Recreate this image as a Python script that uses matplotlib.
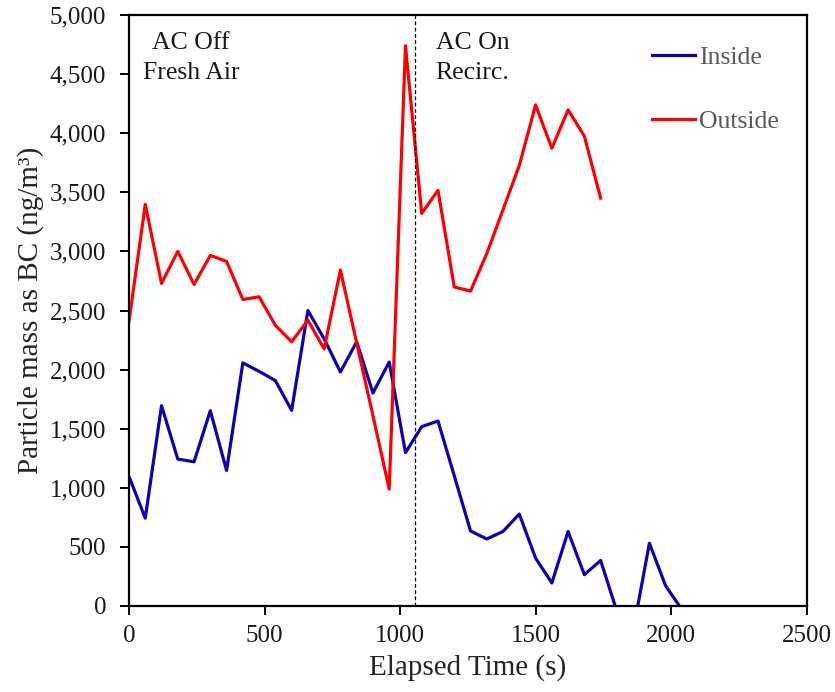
import matplotlib
matplotlib.use("Agg")
import matplotlib.pyplot as plt
import numpy as np
from matplotlib.ticker import FuncFormatter

plt.rcParams['font.family'] = ['Liberation Serif', 'DejaVu Serif']

# Data (elapsed time in s, BC mass in ng/m^3)
time_inside = [0, 60, 120, 180, 240, 300, 360, 420, 480, 540, 600, 660, 720, 780, 840,
               900, 960, 1020, 1080, 1140, 1200, 1260, 1320, 1380, 1440, 1500, 1560,
               1620, 1680, 1740, 1800, 1860, 1920, 1980, 2040]
inside = [1096, 743, 1695, 1243, 1220, 1652, 1147, 2057, 1985, 1907, 1655, 2500, 2260,
          1980, 2235, 1802, 2064, 1297, 1517, 1565, 1102, 635, 567, 631, 778, 405, 195,
          630, 265, 385, -45, -210, 531, 170, -30]

time_outside = [0, 60, 120, 180, 240, 300, 360, 420, 480, 540, 600, 660, 720, 780, 840,
                900, 960, 1020, 1080, 1140, 1200, 1260, 1320, 1380, 1440, 1500, 1560,
                1620, 1680, 1740]
outside = [2409, 3398, 2729, 3000, 2720, 2966, 2915, 2593, 2616, 2375, 2235, 2418, 2175,
           2842, 2225, 1610, 989, 4740, 3322, 3516, 2699, 2664, 2981, 3354, 3727, 4239,
           3873, 4197, 3976, 3451]

switch_time = 1055
x_ticks = [0, 500, 1000, 1500, 2000, 2500]
y_ticks = [0, 500, 1000, 1500, 2000, 2500, 3000, 3500, 4000, 4500, 5000]

fig = plt.figure(figsize=(8.35, 6.92), dpi=100)
ax = fig.add_axes([0.1545, 0.1243, 0.8115, 0.854])

ax.plot(time_inside, inside, color='#0F00B4', lw=2.3, label='Inside')
ax.plot(time_outside, outside, color='#FF0000', lw=2.3, label='Outside')
ax.axvline(switch_time, color='black', lw=0.9, ls=(0, (3, 2)))

ax.set_xlim(0, 2500)
ax.set_ylim(0, 5000)
ax.set_xticks(x_ticks)
ax.set_yticks(y_ticks)
ax.yaxis.set_major_formatter(FuncFormatter(lambda v, p: f"{int(v):,}"))
ax.tick_params(axis='both', direction='out', length=6.5, width=1.4, labelsize=18,
               colors='black')
ax.tick_params(axis='y', pad=10)
ax.tick_params(axis='x', pad=7.5)
ax.tick_params(axis='both', labelcolor='#1a1a1a')
for s in ax.spines.values():
    s.set_linewidth(1.6)

ax.set_xlabel('Elapsed Time (s)', fontsize=21, color='#262626', labelpad=5)
ax.set_ylabel('Particle mass as BC (ng/m³)', fontsize=21, color='#262626', labelpad=4)

ax.text(229, 4855, 'AC Off\nFresh Air', ha='center', va='top', fontsize=18.5,
        linespacing=1.45, color='#1a1a1a')
ax.text(1131, 4855, 'AC On\nRecirc.', ha='left', va='top', fontsize=18.5,
        linespacing=1.45, color='#1a1a1a')

leg = ax.legend(loc='upper left', bbox_to_anchor=(0.7565, 0.965), frameon=False,
                fontsize=18.5, labelspacing=1.58, handlelength=1.67, handletextpad=0.16,
                borderaxespad=0)
for t in leg.get_texts():
    t.set_color('#595959')

fig.savefig('out.png', dpi=100)
